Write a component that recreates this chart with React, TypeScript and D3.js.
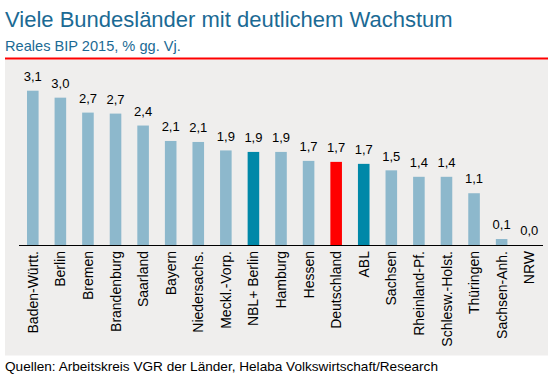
import React from "react";
import * as d3 from "d3";

const categories = [
  "Baden-Württ.", "Berlin", "Bremen", "Brandenburg", "Saarland", "Bayern",
  "Niedersachs.", "Meckl.-Vorp.", "NBL+ Berlin", "Hamburg", "Hessen",
  "Deutschland", "ABL", "Sachsen", "Rheinland-Pf.", "Schlesw.-Holst.",
  "Thüringen", "Sachsen-Anh.", "NRW",
];
const values = [3.1, 2.96, 2.66, 2.64, 2.4, 2.09, 2.07, 1.9, 1.87, 1.87, 1.69, 1.67, 1.63, 1.5, 1.37, 1.37, 1.04, 0.12, 0.0];
const valueLabels = ["3,1", "3,0", "2,7", "2,7", "2,4", "2,1", "2,1", "1,9", "1,9", "1,9", "1,7", "1,7", "1,7", "1,5", "1,4", "1,4", "1,1", "0,1", "0,0"];
const darkCategories = ["NBL+ Berlin", "ABL"];
const redCategories = ["Deutschland"];

const title = "Viele Bundesländer mit deutlichem Wachstum";
const subtitle = "Reales BIP 2015, % gg. Vj.";
const source = "Quellen: Arbeitskreis VGR der Länder, Helaba Volkswirtschaft/Research";

const FONT = "'Liberation Sans', Arial, Helvetica, sans-serif";
const TITLE_COLOR = "#1b6a94";

export default function App() {
  const W = 558, H = 389;
  const baseY = 245;
  const x = d3.scaleBand<string>().domain(categories).range([19, 543]).paddingInner(0.58).paddingOuter(0.29);
  const y = d3.scaleLinear().domain([0, 3.1]).range([baseY, 90.7]);

  const colorOf = (c: string) =>
    redCategories.includes(c) ? "#ff0000" : darkCategories.includes(c) ? "#0088a8" : "#8db8cc";

  return (
    <svg width={W} height={H} style={{ position: "absolute", left: 0, top: 0 }} fontFamily={FONT}>
      <rect x={0} y={0} width={W} height={H} fill="#ffffff" />
      <text x={5} y={27.3} fontSize={22} fill={TITLE_COLOR}>{title}</text>
      <text x={5} y={50.5} fontSize={14.6} fill={TITLE_COLOR}>{subtitle}</text>
      <rect x={5} y={59.5} width={543} height={296} fill="#efeeed" />
      <line x1={5} x2={548} y1={58.5} y2={58.5} stroke="#ff0000" strokeWidth={2} />
      {categories.map((c, i) => {
        const bx = x(c)!;
        const bw = x.bandwidth();
        const top = y(values[i]);
        const cx = bx + bw / 2;
        return (
          <g key={c}>
            <rect x={bx} y={top} width={bw} height={baseY - top} fill={colorOf(c)} />
            <text x={cx} y={top - 9.8} fontSize={13} textAnchor="middle" fill="#000">
              {valueLabels[i]}
            </text>
            <text
              transform={`translate(${cx},${baseY + 6}) rotate(-90)`}
              fontSize={14}
              textAnchor="end"
              dy="0.36em"
              fill="#000"
            >
              {c}
            </text>
          </g>
        );
      })}
      <line x1={19} x2={543} y1={baseY + 0.5} y2={baseY + 0.5} stroke="#000" strokeWidth={1} />
      <text x={5} y={370.7} fontSize={13.6} fill="#000">{source}</text>
    </svg>
  );
}
